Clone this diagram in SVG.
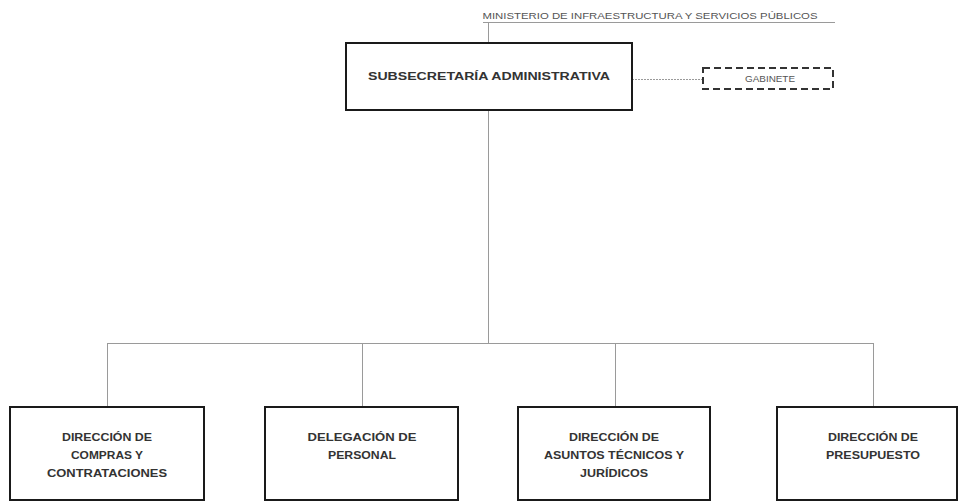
<svg xmlns="http://www.w3.org/2000/svg" width="959" height="502" viewBox="0 0 959 502">
  <style>
    .box { fill: #ffffff; stroke: #1a1a1a; stroke-width: 2; }
    .dash { fill: #ffffff; stroke: #333333; stroke-width: 2; stroke-dasharray: 7 4; }
    .line { fill: none; stroke: #9a9a9a; stroke-width: 1; }
    .dotted { fill: none; stroke: #9a9a9a; stroke-width: 1; stroke-dasharray: 2 1; }
    .lbl { font-family: "Liberation Sans", Arial, sans-serif; font-weight: bold; font-size: 11px; fill: #333333; text-anchor: middle; }
    .thin { font-family: "Liberation Sans", Arial, sans-serif; font-size: 9px; fill: #555555; text-anchor: middle; }
  </style>
  <rect width="959" height="502" fill="#ffffff"/>

  <g id="connectors">
    <line class="line" x1="483" y1="22.5" x2="835" y2="22.5"/>
    <line class="line" x1="488.5" y1="22" x2="488.5" y2="43"/>
    <line class="dotted" x1="632" y1="79.5" x2="703" y2="79.5"/>
    <line class="line" x1="488.5" y1="110" x2="488.5" y2="344"/>
    <line class="line" x1="107" y1="343.5" x2="873" y2="343.5"/>
    <line class="line" x1="107.5" y1="343" x2="107.5" y2="407"/>
    <line class="line" x1="362.5" y1="343" x2="362.5" y2="407"/>
    <line class="line" x1="615.5" y1="343" x2="615.5" y2="407"/>
    <line class="line" x1="873.5" y1="343" x2="873.5" y2="407"/>
  </g>

  <g id="ministerio">
    <text class="thin" x="650" y="19" textLength="335" lengthAdjust="spacingAndGlyphs">MINISTERIO DE INFRAESTRUCTURA Y SERVICIOS PÚBLICOS</text>
  </g>

  <g id="subsecretaria">
    <rect class="box" x="346" y="43" width="286" height="67"/>
    <text class="lbl" x="489" y="80" font-size="13" textLength="242" lengthAdjust="spacingAndGlyphs">SUBSECRETARÍA ADMINISTRATIVA</text>
  </g>

  <g id="gabinete">
    <rect class="dash" x="703" y="68" width="130" height="21"/>
    <text class="thin" x="770" y="82" font-size="8" textLength="50" lengthAdjust="spacingAndGlyphs">GABINETE</text>
  </g>

  <g id="compras">
    <rect class="box" x="10" y="407" width="194" height="93"/>
    <text class="lbl" x="107" y="441" textLength="90" lengthAdjust="spacingAndGlyphs">DIRECCIÓN DE</text>
    <text class="lbl" x="107" y="459" textLength="72" lengthAdjust="spacingAndGlyphs">COMPRAS Y</text>
    <text class="lbl" x="107" y="477" textLength="120" lengthAdjust="spacingAndGlyphs">CONTRATACIONES</text>
  </g>

  <g id="personal">
    <rect class="box" x="265" y="407" width="193" height="93"/>
    <text class="lbl" x="362" y="441" textLength="109" lengthAdjust="spacingAndGlyphs">DELEGACIÓN  DE</text>
    <text class="lbl" x="362" y="459" textLength="68" lengthAdjust="spacingAndGlyphs">PERSONAL</text>
  </g>

  <g id="asuntos">
    <rect class="box" x="518" y="407" width="192" height="93"/>
    <text class="lbl" x="614" y="441" textLength="90" lengthAdjust="spacingAndGlyphs">DIRECCIÓN DE</text>
    <text class="lbl" x="614" y="459" textLength="140" lengthAdjust="spacingAndGlyphs">ASUNTOS TÉCNICOS Y</text>
    <text class="lbl" x="614" y="477" textLength="68" lengthAdjust="spacingAndGlyphs">JURÍDICOS</text>
  </g>

  <g id="presupuesto">
    <rect class="box" x="777" y="407" width="180" height="93"/>
    <text class="lbl" x="873" y="441" textLength="90" lengthAdjust="spacingAndGlyphs">DIRECCIÓN DE</text>
    <text class="lbl" x="873" y="459" textLength="94" lengthAdjust="spacingAndGlyphs">PRESUPUESTO</text>
  </g>
</svg>
